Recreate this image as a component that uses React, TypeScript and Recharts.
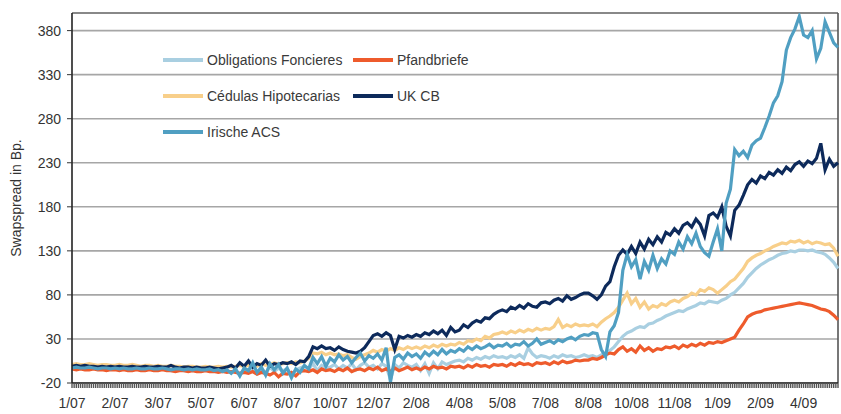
import React from 'react';
import { LineChart, Line, XAxis, YAxis, CartesianGrid, ReferenceLine } from 'recharts';

// month labels, one every 10 observations
const dateTicks = ['1/07', '2/07', '3/07', '5/07', '6/07', '8/07', '10/07', '12/07', '2/08', '4/08', '5/08', '7/08', '8/08', '10/08', '11/08', '1/09', '2/09', '4/09'];

const yTicks = [-20, 30, 80, 130, 180, 230, 280, 330, 380];

const obligations = [
  -3, -4, -3, -4, -4, -3, -4, -4, -5, -4,
  -4, -5, -4, -5, -5, -4, -5, -5, -4, -5,
  -5, -4, -5, -6, -5, -5, -6, -5, -6, -5,
  -6, -5, -6, -6, -7, -6, -7, -8, -6, -10,
  -5, -8, -3, -9, -4, -8, -2, -7, -3, -6,
  -4, -11, -5, -3, -1, -4, 2, -6, 0, -3,
  -2, 1, -4, 0, -3, 2, -5, 0, 3, -2,
  0, -4, 2, -1, -16, 1, -3, 3, 0, -2,
  1, -6, 2, -9, 3, -4, 4, 1, 3, 5,
  6, 4, 8, 6, 9, 7, 10, 8, 11, 9,
  10, 8, 11, 9, 12, 8, 20, 13, 9, 11,
  10, 8, 11, 9, 12, 10, 11, 9, 10, 12,
  10, 11, 9, 12, 14, 17, 21, 27, 33, 37,
  39, 42, 44, 43, 47, 48, 51, 53, 56, 58,
  60, 62, 61, 64, 66, 68, 71, 70, 73, 72,
  71, 74, 76, 80, 83, 88, 93, 100, 105, 110,
  114, 117, 120, 122, 125, 127, 128, 130, 129, 131,
  131, 130, 131, 129, 128, 126, 122, 117, 110,
];

const pfandbriefe = [
  -4, -5, -4, -5, -5, -4, -5, -5, -6, -5,
  -5, -6, -5, -6, -6, -5, -6, -6, -5, -6,
  -6, -5, -6, -6, -7, -6, -6, -7, -6, -7,
  -7, -6, -7, -7, -8, -7, -8, -7, -8, -9,
  -8, -9, -7, -10, -8, -9, -11, -8, -13, -9,
  -10, -8, -12, -7, -6, -7, -5, -8, -4, -6,
  -5, -7, -4, -6, -3, -7, -5, -4, -6, -3,
  -5, -2, -6, -4, -7, -3, -6, -4, -2, -5,
  -3, -5, -2, -4, -1, -3, -2, -4, -1, -2,
  -1, -3, 0, -2, 1, -1, 0, -2, 1, 0,
  1, -1, 2, 0, 3, 1, 2, 0, 3, 2,
  3, 1, 4, 2, 5, 3, 4, 6, 5, 6,
  6, 8, 7, 9, 12, 14, 13, 18, 21, 16,
  19, 15, 22, 17, 20, 16, 19, 18, 21, 20,
  22, 19, 23, 21, 24, 22, 25, 23, 26, 25,
  27, 26, 28, 30, 32, 40, 47, 55, 58, 60,
  61, 63, 64, 65, 66, 67, 68, 69, 70, 71,
  70, 69, 68, 66, 64, 63, 61, 57, 52,
];

const cedulas = [
  1, 2, 1, 1, 2, 1, 0, 1, 1, 0,
  0, 1, 0, 0, 1, 0, -1, 0, 0, -1,
  0, -1, -1, 0, -1, -1, -2, -1, -1, -2,
  -2, -1, -2, -2, -1, -2, -1, -2, -1, 0,
  -1, 0, 1, -1, 2, 0, 1, 3, 1, 2,
  3, 2, 4, 3, 5, 8, 14, 13, 15, 12,
  14, 12, 13, 11, 12, 9, 7, 10, 12, 14,
  17, 15, 18, 16, 19, 17, 20, 18, 21, 19,
  21, 19, 22, 20, 23, 21, 24, 22, 24, 23,
  26, 24, 28, 27, 30, 28, 33, 31, 35, 36,
  38, 36, 39, 37, 40, 38, 41, 39, 42, 40,
  42, 41, 44, 52, 43, 46, 44, 47, 45, 46,
  45, 47, 44, 49, 53, 56, 60, 66, 74, 82,
  70, 76, 66, 72, 64, 68, 66, 70, 68, 72,
  74, 72, 76, 78, 82, 80, 86, 84, 88, 86,
  82, 86, 90, 95, 98, 104, 110, 118, 122, 125,
  127, 130, 132, 135, 137, 139, 138, 141, 140, 142,
  139, 141, 138, 140, 139, 137, 138, 133, 124,
];

const ukCb = [
  -1, 0, -1, 0, -1, -1, -2, -1, -2, -1,
  -2, -1, -2, -2, -1, -2, -2, -1, -2, -2,
  -1, -2, -2, 0, -2, -3, -2, -2, -3, -2,
  -3, -3, -2, -3, -4, -3, -2, 0, -3, 3,
  -1, 5, -2, 2, 0, 6, -1, 2, 1, 3,
  2, 4, 1, 5, 4, 10, 21, 19, 22, 19,
  20, 17, 21, 18, 16, 15, 14, 16, 20, 27,
  34, 36, 33, 37, 34, 18, 33, 31, 34, 32,
  35, 33, 37, 35, 39, 36, 40, 34, 43, 38,
  40, 46, 43, 48, 51, 49, 54, 53, 58, 61,
  63, 61, 66, 64, 68, 65, 70, 67, 66, 71,
  72, 70, 74, 76, 73, 79, 75, 77, 80, 82,
  82, 79, 75, 80, 90, 95, 112, 125, 131, 126,
  135, 127, 140, 132, 143, 137, 146, 140, 151, 148,
  155, 150, 159, 162, 157, 166, 160, 147, 170, 173,
  168, 180, 158, 147, 176, 182, 193, 205, 211, 207,
  215, 212, 219, 216, 222, 218, 225, 221, 228, 231,
  226, 232, 229, 235, 252, 222, 234, 226, 230,
];

const irischeAcs = [
  -3, -2, -3, -3, -2, -3, -4, -3, -3, -4,
  -3, -4, -3, -4, -4, -3, -4, -4, -3, -4,
  -4, -3, -4, -5, -4, -4, -5, -4, -5, -4,
  -5, -5, -4, -6, -5, -7, -5, -9, -4, -12,
  -3, -6, 3, -8, -2, -11, 2, -5, 1, -9,
  -3, -14, -4, -8, 0, -4, 9, 2, 10, -1,
  8, 4, 12, 6, 10, 3, 9, 14, 5, 11,
  8, 13, 6, 20, -19, 9, 12, 7, 14, 10,
  13, 8, 15, 11, 16, 12, 18, 13, 17, 15,
  19, 16, 21, 18, 22, 19, 21, 24, 20, 23,
  22, 25, 21, 24, 23, 27, 22, 25, 30, 24,
  26, 28, 25, 29, 27, 30, 32, 29, 33, 35,
  34, 37, 36, 18, 10, 38, 45, 60, 108, 126,
  112, 120, 98, 118, 108, 125, 110, 121, 115, 130,
  126, 140, 132, 146, 138, 150, 135, 128, 124, 140,
  155, 130, 184, 200, 245, 238, 243, 236, 250, 255,
  258, 270, 283, 298, 306, 322, 358, 372, 382, 396,
  375, 372, 380, 348, 360, 390, 378, 366, 361,
];

const series = [
  { key: 'obl', name: 'Obligations Foncieres', color: '#a9cfe1', values: obligations },
  { key: 'pfb', name: 'Pfandbriefe', color: '#ee5b2c', values: pfandbriefe },
  { key: 'ced', name: 'Cédulas Hipotecarias', color: '#f8cf8a', values: cedulas },
  { key: 'ukcb', name: 'UK CB', color: '#0d2a5b', values: ukCb },
  { key: 'acs', name: 'Irische ACS', color: '#509fc2', values: irischeAcs },
];

const data = obligations.map((_, i) => {
  const row: Record<string, number> = { i };
  series.forEach((s) => {
    row[s.key] = s.values[i];
  });
  return row;
});

const FONT = '"Liberation Sans", Arial, sans-serif';

const XTick = (props: any) => {
  const { x, y, payload } = props;
  const idx = payload.value as number;
  const label = idx % 10 === 0 ? dateTicks[idx / 10] : null;
  return (
    <g>
      <line x1={x} x2={x} y1={y} y2={y + 5} stroke="#555" strokeWidth={1.4} />
      {idx < data.length - 1 && (
        <line x1={x + 2.15} x2={x + 2.15} y1={y} y2={y + 5} stroke="#555" strokeWidth={1.4} />
      )}
      {label && (
        <text x={x} y={y + 25} textAnchor="middle" fill="#333" fontSize={14} fontFamily={FONT}>
          {label}
        </text>
      )}
    </g>
  );
};

function ChartLegend() {
  return (
    <div
      style={{
        position: 'absolute',
        left: 163,
        top: 50,
        display: 'grid',
        gridTemplateColumns: '190px 190px',
        rowGap: 16,
        fontFamily: FONT,
        fontSize: 14,
        color: '#3a3a3a',
      }}
    >
      {series.map((s) => (
        <div key={s.key} style={{ display: 'flex', alignItems: 'center', height: 20 }}>
          <span
            style={{ display: 'inline-block', width: 40, height: 4, background: s.color, marginRight: 4 }}
          />
          {s.name}
        </div>
      ))}
    </div>
  );
}

export default function App(): React.JSX.Element {
  return (
    <div style={{ position: 'absolute', left: 0, top: 0, width: 841, height: 414, background: '#fff' }}>
      <LineChart width={841} height={414} data={data} margin={{ top: 13, right: 3, left: 0, bottom: 1 }}>
        <CartesianGrid vertical={false} stroke="#a6a6a6" strokeWidth={1.6} />
        <XAxis
          dataKey="i"
          type="category"
          interval={0}
          tick={<XTick />}
          tickLine={false}
          tickSize={0}
          tickMargin={0}
          height={30}
          axisLine={{ stroke: '#222', strokeWidth: 1.5 }}
        />
        <YAxis
          domain={[-20, 400]}
          ticks={yTicks}
          width={72}
          allowDataOverflow
          tick={{ fill: '#333', fontSize: 14, fontFamily: FONT }}
          tickLine={{ stroke: '#333' }}
          tickSize={5}
          tickMargin={6}
          axisLine={{ stroke: '#222', strokeWidth: 1.6 }}
          label={{
            value: 'Swapspread in Bp.',
            angle: -90,
            position: 'insideLeft',
            offset: 16,
            style: { textAnchor: 'middle', fill: '#333', fontSize: 14, fontFamily: FONT },
          }}
        />
        <ReferenceLine y={400} stroke="#777" strokeWidth={1.6} />
        <ReferenceLine x={data.length - 1} stroke="#555" strokeWidth={1.6} />
        {series.map((s) => (
          <Line
            key={s.key}
            dataKey={s.key}
            name={s.name}
            stroke={s.color}
            strokeWidth={3.2}
            dot={false}
            type="linear"
            isAnimationActive={false}
          />
        ))}
      </LineChart>
      <ChartLegend />
    </div>
  );
}
